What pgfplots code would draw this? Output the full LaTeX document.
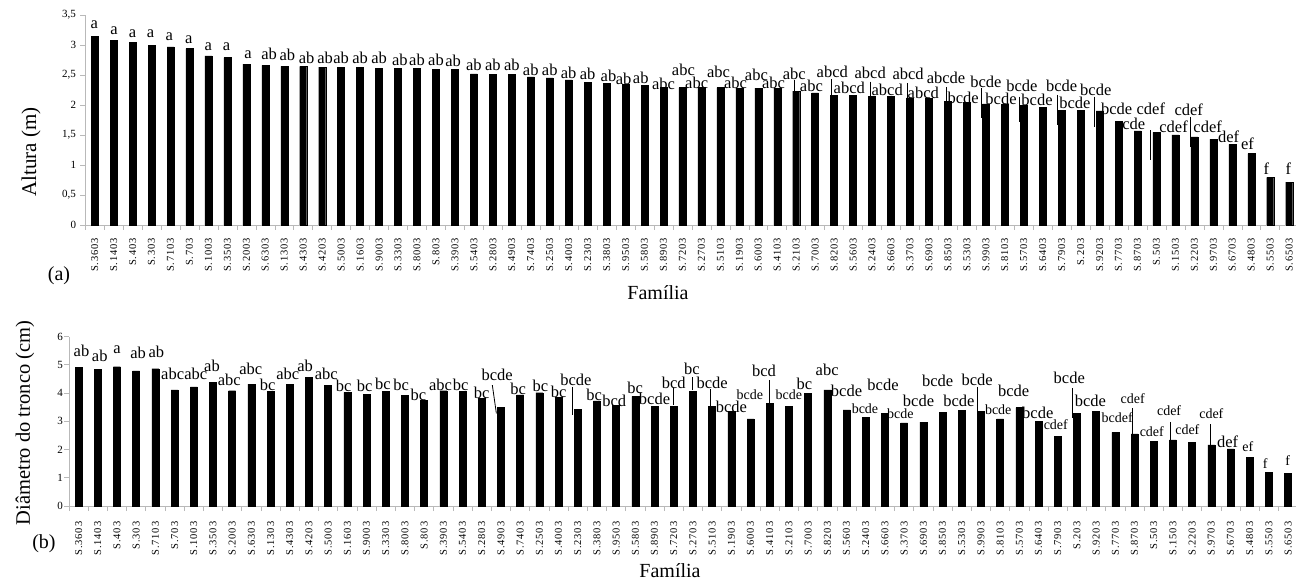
\documentclass[border=0pt]{standalone}
\usepackage{fontspec}
\setmainfont{Liberation Serif}
\usepackage{pgfplots}
\pgfplotsset{compat=1.18}
\newcommand{\fs}[1]{\fontsize{#1}{#1}\selectfont}
\newcommand{\La}[3]{\node[font=\fs{16.5},inner sep=0pt] at (axis cs:#1,#2) {#3};}
\newcommand{\Ls}[3]{\node[font=\fs{14},inner sep=0pt] at (axis cs:#1,#2) {#3};}
\newcommand{\Ld}[3]{\draw[line width=0.8pt] (axis cs:#1,#2) -- (axis cs:#1,#3);}
\pgfplotsset{
  fambar/.style={
    scale only axis, clip=false,
    axis lines=left,
    axis line style={draw=gray!55, line width=0.8pt, -},
    ymin=0, xmin=0.5,
    xtick={1,...,64},
    xticklabels={S.3603,S.1403,S.403,S.303,S.7103,S.703,S.1003,S.3503,S.2003,S.6303,S.1303,S.4303,S.4203,S.5003,S.1603,S.9003,S.3303,S.8003,S.803,S.3903,S.5403,S.2803,S.4903,S.7403,S.2503,S.4003,S.2303,S.3803,S.9503,S.5803,S.8903,S.7203,S.2703,S.5103,S.1903,S.6003,S.4103,S.2103,S.7003,S.8203,S.5603,S.2403,S.6603,S.3703,S.6903,S.8503,S.5303,S.9903,S.8103,S.5703,S.6403,S.7903,S.203,S.9203,S.7703,S.8703,S.503,S.1503,S.2203,S.9703,S.6703,S.4803,S.5503,S.6503},
    major x tick style={draw=none},
    minor xtick={0.5,1.5,...,64.5},
    minor x tick style={draw=gray!55, line width=0.6pt},
    minor tick length=5pt,
    tick align=outside,
    major tick length=5pt,
    ytick style={draw=gray!55, line width=0.6pt},
    xticklabel style={rotate=90, anchor=east, inner sep=0pt, font=\fs{10.5}\addfontfeatures{LetterSpace=8}},
    yticklabel style={font=\fs{11}, inner sep=0pt},
    /pgf/number format/.cd, use comma, assume math mode=true,
  }
}
\begin{document}
\begin{tikzpicture}
\path[use as bounding box] (0pt,0pt) rectangle (1296pt,582pt);
% ---------------- (a)
\begin{axis}[fambar, at={(85.2pt,357pt)}, anchor=south west,
  width=1210.8pt, height=210pt, xmax=64.36, ymax=3.5,
  ytick={0,0.5,...,3.5}, xticklabel shift=8pt, yticklabel shift=4pt]
\addplot[ybar, bar width=7pt, fill=black, draw=black] table {
x y
1 3.15
2 3.08
3 3.045
4 2.99
5 2.97
6 2.94
7 2.82
8 2.79
9 2.68
10 2.66
11 2.645
12 2.645
13 2.63
14 2.63
15 2.63
16 2.61
17 2.61
18 2.61
19 2.59
20 2.59
21 2.52
22 2.51
23 2.51
24 2.47
25 2.45
26 2.42
27 2.38
28 2.355
29 2.34
30 2.33
31 2.29
32 2.29
33 2.29
34 2.29
35 2.28
36 2.28
37 2.28
38 2.23
39 2.20
40 2.16
41 2.16
42 2.14
43 2.14
44 2.12
45 2.11
46 2.055
47 2.04
48 2.02
49 2.01
50 1.995
51 1.96
52 1.905
53 1.905
54 1.90
55 1.73
56 1.57
57 1.545
58 1.50
59 1.47
60 1.43
61 1.345
62 1.19
63 0.795
64 0.715
};
\La{0.98}{3.33}{a}\La{2.02}{3.23}{a}\La{3.0}{3.19}{a}\La{3.95}{3.19}{a}
\La{4.93}{3.14}{a}\La{5.96}{3.08}{a}\La{6.99}{2.97}{a}\La{7.96}{2.97}{a}
\La{9.09}{2.83}{a}
\La{10.2}{2.86}{ab}\La{11.16}{2.83}{ab}\La{12.18}{2.79}{ab}\La{13.15}{2.79}{ab}
\La{14.0}{2.79}{ab}\La{15.0}{2.78}{ab}\La{16.0}{2.78}{ab}\La{17.1}{2.76}{ab}
\La{18.0}{2.76}{ab}\La{19.0}{2.75}{ab}\La{19.9}{2.73}{ab}\La{21.0}{2.67}{ab}
\La{22.0}{2.67}{ab}\La{23.0}{2.67}{ab}\La{24.0}{2.59}{ab}\La{25.0}{2.59}{ab}
\La{26.0}{2.54}{ab}\La{27.0}{2.52}{ab}\La{28.1}{2.48}{ab}\La{28.9}{2.44}{ab}
\La{29.8}{2.45}{ab}
\La{31.0}{2.36}{abc}\La{32.05}{2.58}{abc}\La{32.75}{2.37}{abc}\La{33.9}{2.56}{abc}
\La{34.8}{2.37}{abc}\La{35.9}{2.50}{abc}\La{36.8}{2.37}{abc}\La{37.9}{2.52}{abc}
\La{38.8}{2.32}{abc}
\La{39.9}{2.56}{abcd}\La{40.8}{2.28}{abcd}\La{41.9}{2.53}{abcd}\La{42.8}{2.25}{abcd}
\La{43.9}{2.52}{abcd}\La{44.7}{2.21}{abcd}
\La{45.9}{2.46}{abcde}
\La{46.8}{2.125}{bcde}\La{48.0}{2.39}{bcde}\La{48.8}{2.11}{bcde}\La{49.9}{2.32}{bcde}
\La{50.7}{2.08}{bcde}\La{52.0}{2.32}{bcde}\La{52.7}{2.03}{bcde}\La{53.8}{2.26}{bcde}
\La{54.9}{1.94}{bcde}
\La{55.8}{1.68}{cde}
\La{56.7}{1.94}{cdef}\La{57.9}{1.64}{cdef}\La{58.7}{1.92}{cdef}\La{59.7}{1.64}{cdef}
\La{60.8}{1.47}{def}\La{61.8}{1.36}{ef}\La{62.8}{0.94}{f}\La{63.95}{0.94}{f}
\Ld{37.88}{2.42}{2.23}\Ld{39.87}{2.43}{2.17}\Ld{41.89}{2.39}{2.13}\Ld{43.86}{2.36}{2.11}
\Ld{45.9}{2.30}{2.05}\Ld{47.78}{2.28}{1.78}\Ld{49.77}{2.14}{1.72}\Ld{51.77}{2.17}{1.67}
\Ld{53.72}{2.14}{1.64}\Ld{56.66}{1.58}{1.08}\Ld{58.8}{1.80}{1.30}
\end{axis}
% ---------------- (b)
\begin{axis}[fambar, at={(69pt,76pt)}, anchor=south west,
  width=1227pt, height=169.5pt, xmax=64.41, ymax=6,
  ytick={0,1,...,6}, xticklabel shift=10.5pt, yticklabel shift=1pt]
\addplot[ybar, bar width=7pt, fill=black, draw=black] table {
x y
1 4.91
2 4.84
3 4.93
4 4.78
5 4.86
6 4.11
7 4.22
8 4.37
9 4.08
10 4.31
11 4.07
12 4.31
13 4.56
14 4.26
15 4.02
16 3.96
17 4.05
18 3.91
19 3.75
20 4.08
21 4.05
22 3.81
23 3.49
24 3.93
25 4.01
26 3.85
27 3.43
28 3.72
29 3.56
30 3.88
31 3.52
32 3.54
33 4.07
34 3.52
35 3.36
36 3.08
37 3.63
38 3.52
39 3.98
40 4.11
41 3.40
42 3.14
43 3.28
44 2.94
45 2.97
46 3.32
47 3.39
48 3.36
49 3.08
50 3.48
51 3.00
52 2.47
53 3.28
54 3.35
55 2.61
56 2.55
57 2.28
58 2.34
59 2.25
60 2.16
61 2.02
62 1.72
63 1.20
64 1.16
};
\La{1.15}{5.50}{ab}\La{2.1}{5.32}{ab}\La{3.0}{5.55}{a}\La{4.1}{5.43}{ab}
\La{5.05}{5.46}{ab}\La{5.9}{4.67}{abc}\La{7.1}{4.67}{abc}\La{7.95}{4.96}{ab}
\La{8.85}{4.48}{abc}\La{9.97}{4.84}{abc}\La{10.85}{4.28}{bc}\La{11.9}{4.67}{abc}
\La{12.8}{4.96}{ab}\La{13.9}{4.67}{abc}\La{14.8}{4.25}{bc}\La{15.9}{4.25}{bc}
\La{16.85}{4.32}{bc}\La{17.8}{4.28}{bc}\La{18.7}{3.93}{bc}\La{19.85}{4.28}{abc}
\La{20.9}{4.30}{bc}\La{22.0}{4.01}{bc}\La{22.8}{4.64}{bcde}\La{23.9}{4.13}{bc}
\La{25.05}{4.25}{bc}\La{26.0}{4.05}{bc}\La{26.9}{4.48}{bcde}\La{27.85}{3.93}{bc}
\La{28.9}{3.73}{bcd}\La{29.99}{4.17}{bc}\La{31.0}{3.78}{bcde}\La{32.0}{4.37}{bcd}
\La{32.95}{4.84}{bc}\La{34.0}{4.37}{bcde}\La{35.0}{3.52}{bcde}\Ls{35.96}{3.93}{bcde}
\La{36.7}{4.78}{bcd}\Ls{38.0}{3.93}{bcde}\La{38.8}{4.32}{bc}\La{39.99}{4.81}{abc}
\La{41.0}{4.08}{bcde}\Ls{41.96}{3.46}{bcde}\La{42.9}{4.28}{bcde}\Ls{43.8}{3.28}{bcde}
\La{44.75}{3.73}{bcde}\La{45.75}{4.42}{bcde}\La{46.85}{3.73}{bcde}\La{47.8}{4.48}{bcde}
\Ls{48.9}{3.40}{bcde}\La{49.7}{4.08}{bcde}\La{50.96}{3.30}{bcde}\Ls{51.9}{2.87}{cdef}
\La{52.6}{4.52}{bcde}\La{53.7}{3.73}{bcde}\Ls{55.1}{3.14}{bcdef}\Ls{55.9}{3.81}{cdef}
\Ls{56.9}{2.63}{cdef}\Ls{57.8}{3.37}{cdef}\Ls{58.75}{2.69}{cdef}\Ls{60.0}{3.26}{cdef}
\La{60.85}{2.28}{def}\Ls{61.9}{2.10}{ef}\Ls{62.8}{1.51}{f}\Ls{63.98}{1.60}{f}
\draw[line width=0.8pt] (axis cs:22.55,4.28) -- (axis cs:22.76,3.28);
\Ld{26.74}{4.22}{3.22}\Ld{31.99}{4.17}{3.58}\Ld{32.99}{4.56}{4.11}\Ld{33.92}{4.13}{3.54}
\Ld{36.99}{4.46}{3.64}\Ld{47.84}{4.22}{3.16}\Ld{52.75}{4.17}{3.10}\Ld{55.91}{3.46}{2.55}
\Ld{57.86}{2.98}{2.34}\Ld{59.94}{2.90}{2.16}
\end{axis}
% ---------------- texts
\node[rotate=90, font=\fs{21}] at (31pt,430pt) {Altura (m)};
\node[rotate=90, font=\fs{20.5}] at (25pt,159pt) {Diâmetro do tronco (cm)};
\node[font=\fs{20}] at (658pt,289pt) {Família};
\node[font=\fs{20}] at (670pt,11pt) {Família};
\node[font=\fs{20}] at (59pt,306pt) {(a)};
\node[font=\fs{20}] at (44pt,38pt) {(b)};
\end{tikzpicture}
\end{document}
